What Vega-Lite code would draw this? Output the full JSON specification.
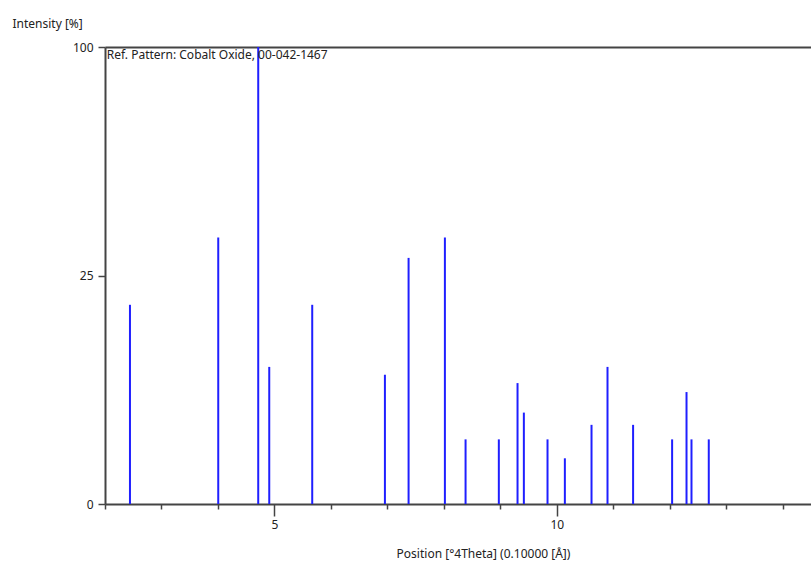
{
  "$schema": "https://vega.github.io/schema/vega-lite/v6.json",
  "width": 706,
  "height": 457,
  "autosize": {"type": "none"},
  "padding": {"left": 105, "top": 47, "right": 0, "bottom": 58},
  "background": "white",
  "config": {
    "view": {"stroke": null},
    "font": "Noto Sans",
    "axis": {"labelFont": "Noto Sans", "titleFont": "Noto Sans", "labelColor": "#222", "titleColor": "#222", "domainColor": "#444", "tickColor": "#444", "grid": false}
  },
  "datasets": {
    "peaks": [
      {"pos": 2.442, "intensity": 19},
      {"pos": 4.005, "intensity": 34},
      {"pos": 4.713, "intensity": 100},
      {"pos": 4.908, "intensity": 9},
      {"pos": 5.669, "intensity": 19},
      {"pos": 6.956, "intensity": 8},
      {"pos": 7.375, "intensity": 29},
      {"pos": 8.018, "intensity": 34},
      {"pos": 8.384, "intensity": 2},
      {"pos": 8.973, "intensity": 2},
      {"pos": 9.304, "intensity": 7},
      {"pos": 9.416, "intensity": 4},
      {"pos": 9.835, "intensity": 2},
      {"pos": 10.142, "intensity": 1},
      {"pos": 10.614, "intensity": 3},
      {"pos": 10.897, "intensity": 9},
      {"pos": 11.35, "intensity": 3},
      {"pos": 12.041, "intensity": 2},
      {"pos": 12.296, "intensity": 6},
      {"pos": 12.384, "intensity": 2},
      {"pos": 12.69, "intensity": 2}
    ],
    "note": [{"label": "Ref. Pattern: Cobalt Oxide, 00-042-1467", "x": 2.03, "y": 100}]
  },
  "layer": [
    {
      "data": {"name": "peaks"},
      "mark": {"type": "rule", "color": "#1f1fff", "strokeWidth": 2},
      "encoding": {
        "x": {
          "field": "pos", "type": "quantitative",
          "scale": {"domain": [2, 14.5], "nice": false, "zero": false},
          "axis": {
            "orient": "bottom",
            "values": [2, 3, 4, 5, 6, 7, 8, 9, 10, 11, 12, 13, 14],
            "tickSize": {"condition": {"test": "datum.value % 5 === 0", "value": 12}, "value": 5},
            "tickWidth": 1.5,
            "domainWidth": 2,
            "labelExpr": "datum.value % 5 === 0 ? datum.label : ''",
            "labelFontSize": 12,
            "labelPadding": 3,
            "title": "Position [°4Theta] (0.10000 [Å])",
            "titleFontSize": 12,
            "titleFontWeight": "normal",
            "titleX": 378,
            "titleY": 49,
            "titleAlign": "center",
            "titleBaseline": "middle"
          }
        },
        "y": {
          "field": "intensity", "type": "quantitative",
          "scale": {"type": "sqrt", "domain": [0, 100], "nice": false},
          "axis": {
            "values": [0, 25, 100],
            "tickSize": 7,
            "tickWidth": 1.5,
            "domainWidth": 2,
            "labelFontSize": 12,
            "labelPadding": 5,
            "title": "Intensity [%]",
            "titleFontSize": 12,
            "titleFontWeight": "normal",
            "titleAngle": 0,
            "titleAlign": "left",
            "titleBaseline": "middle",
            "titleX": -93,
            "titleY": -24
          }
        },
        "y2": {"datum": 0}
      }
    },
    {
      "data": {"name": "note"},
      "mark": {"type": "text", "align": "left", "baseline": "top", "dy": 3, "fontSize": 12, "color": "#222", "font": "Noto Sans"},
      "encoding": {
        "x": {"field": "x", "type": "quantitative", "axis": null},
        "y": {"field": "y", "type": "quantitative", "axis": null},
        "text": {"field": "label"}
      }
    },
    {
      "data": {"name": "note"},
      "mark": {"type": "rule", "opacity": 0},
      "encoding": {
        "x": {"field": "x", "type": "quantitative", "axis": {"orient": "top", "ticks": false, "labels": false, "title": null, "domainWidth": 2, "domainColor": "#444"}}
      }
    }
  ],
  "resolve": {"axis": {"x": "independent", "y": "independent"}}
}
